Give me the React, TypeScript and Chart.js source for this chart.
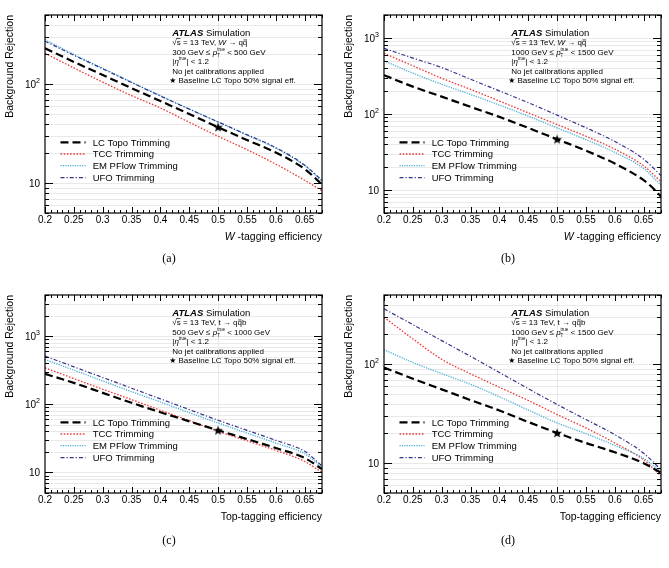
import React, { useEffect, useRef } from "react";
import { Chart, registerables } from "chart.js";
Chart.register(...registerables);

// ---------------- data ----------------
const EFF = [0.2, 0.25, 0.3, 0.35, 0.4, 0.45, 0.5, 0.55, 0.6, 0.65, 0.68];
const EFF_B_LC = [0.2, 0.25, 0.3, 0.35, 0.4, 0.45, 0.5, 0.55, 0.6, 0.65, 0.665, 0.68];
const X_TICK_LABELS = [0.2, 0.25, 0.3, 0.35, 0.4, 0.45, 0.5, 0.55, 0.6, 0.65];
const LEGEND = ["LC Topo Trimming", "TCC Trimming", "EM PFlow Trimming", "UFO Trimming"];
const BASELINE_EFF = 0.5;
const BASELINE_REJ = [36.8, 46.5, 41.5, 20.2];
const Y_MAX = [500, 2000, 4000, 500];
const Y_MIN = 5;
const X_MIN = 0.2;
const X_MAX = 0.68;
const DECAY = ["W", "W", "t", "t"];
const PT_LOW = ["300", "1000", "500", "1000"];
const PT_HIGH = ["500", "1500", "1000", "1500"];
const CAPTIONS = ["(a)", "(b)", "(c)", "(d)"];

// (a) W tagging, 300-500 GeV
const A_LC = [231, 168, 124, 91.2, 67.6, 49.9, 36.8, 27.3, 20.4, 13.9, 9.7];
const A_TCC = [205, 146, 105, 76.7, 57.5, 41.2, 29.8, 21.8, 15.6, 10.7, 8.4];
const A_EM = [282, 200, 145, 105, 76.7, 56.2, 41.4, 30.6, 22.6, 15.0, 10.5];
const A_UFO = [272, 196, 143, 104, 76, 56, 41.6, 30.9, 22.9, 15.2, 10.7];
// (b) W tagging, 1000-1500 GeV
const B_LC = [324, 229, 169, 124, 91.6, 65.6, 46.5, 33, 22.3, 13.5, 10.8, 8.2];
const B_TCC = [627, 430, 295, 211, 148, 103.5, 72.6, 51, 34.5, 20.8, 12.9];
const B_EM = [501, 344, 246, 181, 131, 93.6, 65.6, 46, 31.3, 19.2, 11.6];
const B_UFO = [730, 543, 408, 286, 201, 141, 96.6, 66, 43.5, 25.5, 15.5];
// (c) top tagging, 500-1000 GeV
const C_LC = [279, 206, 147, 105, 76.3, 56.2, 41.5, 30.9, 22.8, 16.3, 11.2];
const C_TCC = [342, 238, 166, 117, 81.7, 57.5, 40.1, 29.2, 21.1, 14.5, 10.0];
const C_EM = [454, 316, 220, 153, 108, 75.3, 53.1, 37.8, 27, 18.8, 12.0];
const C_UFO = [508, 354, 247, 172, 120, 83.5, 58.2, 41.5, 29.6, 20.4, 12.5];
// (d) top tagging, 1000-1500 GeV
const D_LC = [92.5, 71.4, 55.7, 43.4, 34.1, 26.1, 20.2, 16.0, 12.9, 10.0, 8.0];
const D_TCC = [298, 180, 112, 80, 58.5, 43, 31.0, 22.7, 16.0, 10.8, 7.4];
const D_EM = [140, 104, 80.4, 62.6, 46.9, 34.4, 25.5, 19.9, 15.1, 11.2, 8.2];
const D_UFO = [362, 251, 173, 120, 82.3, 56.6, 39.2, 27.6, 19.4, 12.6, 8.6];

const SERIES = [
  [A_LC, A_TCC, A_EM, A_UFO],
  [B_LC, B_TCC, B_EM, B_UFO],
  [C_LC, C_TCC, C_EM, C_UFO],
  [D_LC, D_TCC, D_EM, D_UFO],
];
const LC_EFFS = [EFF, EFF_B_LC, EFF, EFF];

// ---------------- styles ----------------
const FONT = '"Liberation Sans", Arial, Helvetica, sans-serif';
const SERIF = '"Liberation Serif", "Times New Roman", serif';
const STYLES = [
  { color: "#000000", width: 2.2, dash: [8, 4], order: 1 },
  { color: "#ee3b3b", width: 1.3, dash: [1.6, 1.6], order: 4 },
  { color: "#45aed6", width: 1.3, dash: [1.2, 1.2], order: 3 },
  { color: "#33338c", width: 1.2, dash: [4, 2, 1.2, 2], order: 2 },
];

const GEOM = [
  { left: 0, top: 0, w: 335, h: 280, L: 45, R: 322, capY: 259 },
  { left: 335, top: 0, w: 334, h: 280, L: 49, R: 326, capY: 259 },
  { left: 0, top: 280, w: 335, h: 288, L: 45, R: 322, capY: 260.7 },
  { left: 335, top: 280, w: 334, h: 288, L: 49, R: 326, capY: 260.7 },
];
const TOP = 15;
const BOTTOM = 213;

type Seg = { t: string; it?: boolean; b?: boolean; s?: number; dy?: number; bar?: "x" | "sqrt"; stack?: boolean };

function drawRich(ctx: CanvasRenderingContext2D, x: number, y: number, segs: Seg[], base: number, measureOnly = false) {
  let cx = x;
  let prevStart = x;
  for (const g of segs) {
    const size = g.s ?? base;
    ctx.font = `${g.it ? "italic " : ""}${g.b ? "bold " : ""}${size}px ${FONT}`;
    const w = ctx.measureText(g.t).width;
    const sx = g.stack ? prevStart : cx;
    if (!measureOnly) {
      ctx.fillText(g.t, sx, y + (g.dy ?? 0));
      if (g.bar) {
        const by = y + (g.dy ?? 0) - (g.bar === "sqrt" ? 0.8 : 0.62) * size;
        ctx.save();
        ctx.beginPath();
        ctx.lineWidth = 0.7;
        ctx.setLineDash([]);
        ctx.moveTo(sx + (g.bar === "sqrt" ? -0.5 : 0.6), by);
        ctx.lineTo(sx + w - 0.3, by);
        ctx.stroke();
        ctx.restore();
      }
    }
    if (g.stack) {
      cx = Math.max(cx, sx + w);
    } else {
      prevStart = sx;
      cx = sx + w;
    }
  }
  return cx - x;
}

function starPath(ctx: CanvasRenderingContext2D, cx: number, cy: number, R: number, r: number) {
  ctx.beginPath();
  for (let i = 0; i < 10; i++) {
    const ang = -Math.PI / 2 + (i * Math.PI) / 5;
    const rad = i % 2 === 0 ? R : r;
    const px = cx + rad * Math.cos(ang);
    const py = cy + rad * Math.sin(ang);
    if (i === 0) ctx.moveTo(px, py);
    else ctx.lineTo(px, py);
  }
  ctx.closePath();
  ctx.fill();
}

function makeStar(): HTMLCanvasElement {
  const c = document.createElement("canvas");
  c.width = 12;
  c.height = 12;
  const g = c.getContext("2d")!;
  g.fillStyle = "#000";
  starPath(g, 6, 6.4, 5.2, 2.1);
  return c;
}

function Panel({ idx }: { idx: number }) {
  const ref = useRef<HTMLCanvasElement>(null);
  const geo = GEOM[idx];
  useEffect(() => {
    const canvas = ref.current!;
    const series = SERIES[idx];
    const datasets: any[] = series.map((ys, si) => {
      const xs = si === 0 ? LC_EFFS[idx] : EFF;
      const st = STYLES[si];
      return {
        label: LEGEND[si],
        data: xs.map((x, i) => ({ x, y: ys[i] })),
        borderColor: st.color,
        backgroundColor: st.color,
        borderWidth: st.width,
        borderDash: st.dash,
        pointRadius: 0,
        fill: false,
        tension: 0,
        cubicInterpolationMode: "monotone",
        order: st.order,
      };
    });
    datasets.push({
      label: "Baseline",
      data: [{ x: BASELINE_EFF, y: BASELINE_REJ[idx] }],
      showLine: false,
      pointStyle: makeStar(),
      pointRadius: 5,
      borderWidth: 0,
      order: 0,
    });

    const decorations = {
      id: "atlasDeco",
      beforeDatasetsDraw(chart: any) {
        const ctx: CanvasRenderingContext2D = chart.ctx;
        const { left, right, top, bottom } = chart.chartArea;
        const ys = chart.scales.y;
        const xs = chart.scales.x;
        ctx.save();
        ctx.strokeStyle = "#e3e3e3";
        ctx.lineWidth = 0.8;
        for (let k = 0; k <= 4; k++) {
          for (let m = 1; m <= 9; m++) {
            const v = m * Math.pow(10, k);
            if (v <= Y_MIN || v >= Y_MAX[idx]) continue;
            const py = Math.round(ys.getPixelForValue(v)) + 0.5;
            ctx.beginPath();
            ctx.moveTo(left, py);
            ctx.lineTo(right, py);
            ctx.stroke();
          }
        }
        const px = Math.round(xs.getPixelForValue(BASELINE_EFF)) + 0.5;
        ctx.beginPath();
        ctx.moveTo(px, top);
        ctx.lineTo(px, bottom);
        ctx.stroke();
        ctx.restore();
      },
      afterDatasetsDraw(chart: any) {
        const ctx: CanvasRenderingContext2D = chart.ctx;
        const { left, right, top, bottom } = chart.chartArea;
        const ys = chart.scales.y;
        const xs = chart.scales.x;
        ctx.save();
        ctx.setLineDash([]);
        ctx.strokeStyle = "#000";
        ctx.fillStyle = "#000";
        // frame
        ctx.lineWidth = 1.2;
        ctx.strokeRect(left, top, right - left, bottom - top);
        // x ticks
        ctx.lineWidth = 1;
        for (let i = 20; i <= 68; i++) {
          const v = i / 100;
          const px = Math.round(xs.getPixelForValue(v)) + 0.5;
          const len = i % 5 === 0 ? 6 : 3;
          ctx.beginPath();
          ctx.moveTo(px, bottom);
          ctx.lineTo(px, bottom - len);
          ctx.moveTo(px, top);
          ctx.lineTo(px, top + len);
          ctx.stroke();
        }
        // y ticks
        for (let k = 0; k <= 4; k++) {
          for (let m = 1; m <= 9; m++) {
            const v = m * Math.pow(10, k);
            if (v < Y_MIN || v > Y_MAX[idx]) continue;
            const py = Math.round(ys.getPixelForValue(v)) + 0.5;
            const len = m === 1 ? 8 : 4;
            ctx.beginPath();
            ctx.moveTo(left, py);
            ctx.lineTo(left + len, py);
            ctx.moveTo(right, py);
            ctx.lineTo(right - len, py);
            ctx.stroke();
          }
        }
        // x tick labels
        ctx.font = `10px ${FONT}`;
        ctx.textAlign = "center";
        ctx.textBaseline = "middle";
        for (const v of X_TICK_LABELS) {
          ctx.fillText(String(v), xs.getPixelForValue(v), bottom + 7.5);
        }
        // y tick labels
        ctx.textAlign = "left";
        ctx.textBaseline = "alphabetic";
        for (let k = 1; k <= 3; k++) {
          const v = Math.pow(10, k);
          if (v < Y_MIN || v > Y_MAX[idx]) continue;
          const py = ys.getPixelForValue(v);
          const segs: Seg[] = k === 1 ? [{ t: "10" }] : [{ t: "10" }, { t: String(k), s: 7, dy: -4.5 }];
          const w = drawRich(ctx, 0, 0, segs, 10, true);
          drawRich(ctx, left - 5 - w, py + 3.6, segs, 10);
        }
        // x title
        const xt: Seg[] = DECAY[idx] === "W"
          ? [{ t: "W", it: true }, { t: " -tagging efficiency" }]
          : [{ t: "Top-tagging efficiency" }];
        const xtw = drawRich(ctx, 0, 0, xt, 10.5, true);
        drawRich(ctx, right - xtw, bottom + 26.8, xt, 10.5);
        // y title
        ctx.save();
        ctx.translate(left - 34.5, top);
        ctx.rotate(-Math.PI / 2);
        ctx.font = `10.5px ${FONT}`;
        ctx.textAlign = "right";
        ctx.textBaseline = "middle";
        ctx.fillText("Background Rejection", 0, 0);
        ctx.restore();
        ctx.textAlign = "left";
        ctx.textBaseline = "alphabetic";
        // legend
        const legY = [127.3, 139, 150.7, 162.7];
        for (let si = 0; si < 4; si++) {
          const st = STYLES[si];
          const y = top + legY[si];
          ctx.save();
          ctx.strokeStyle = st.color;
          ctx.lineWidth = st.width;
          ctx.setLineDash(st.dash);
          ctx.beginPath();
          ctx.moveTo(left + 15.5, y);
          ctx.lineTo(left + 40.5, y);
          ctx.stroke();
          ctx.restore();
          ctx.font = `9.5px ${FONT}`;
          ctx.fillText(LEGEND[si], left + 47.7, y + 3.4);
        }
        // ATLAS label block
        const ax = left + 127.3;
        const rows = [17.3, 27, 36.7, 46, 55.7, 65.3].map((r) => top + r);
        drawRich(ctx, ax, rows[0] + 3.4, [{ t: "ATLAS", b: true, it: true }, { t: " Simulation" }], 9.5);
        const dec: Seg[] = DECAY[idx] === "W"
          ? [{ t: "W", it: true }, { t: " \u2192 q" }, { t: "q", bar: "x" }]
          : [{ t: "t \u2192 q" }, { t: "q", bar: "x" }, { t: "b" }];
        drawRich(ctx, ax, rows[1] + 2.9, [{ t: "\u221A" }, { t: "s", bar: "sqrt" }, { t: " = 13 TeV, " }, ...dec], 8);
        drawRich(ctx, ax, rows[2] + 2.9, [
          { t: PT_LOW[idx] + " GeV \u2264 " },
          { t: "p", it: true },
          { t: "true", s: 4.5, dy: -4 },
          { t: "T", s: 4.5, dy: 2.2, stack: true },
          { t: " < " + PT_HIGH[idx] + " GeV" },
        ], 8);
        drawRich(ctx, ax, rows[3] + 2.9, [
          { t: "|" },
          { t: "\u03B7", it: true },
          { t: "true", s: 4.5, dy: -4 },
          { t: "| < 1.2" },
        ], 8);
        drawRich(ctx, ax, rows[4] + 2.9, [{ t: "No jet calibrations applied" }], 8);
        starPath(ctx, ax + 0.5, rows[5] + 0.2, 3, 1.25);
        drawRich(ctx, ax + 6.2, rows[5] + 2.9, [{ t: "Baseline LC Topo 50% signal eff." }], 8);
        // caption
        ctx.font = `12px ${SERIF}`;
        ctx.textAlign = "center";
        ctx.textBaseline = "middle";
        ctx.fillText(CAPTIONS[idx], (left + right) / 2 - 14.5, GEOM[idx].capY);
        ctx.restore();
      },
    };

    const chart = new Chart(canvas, {
      type: "line",
      data: { datasets },
      options: {
        responsive: false,
        animation: false,
        devicePixelRatio: 1,
        layout: { padding: { left: geo.L, right: geo.w - geo.R, top: TOP, bottom: geo.h - BOTTOM } },
        plugins: { legend: { display: false }, tooltip: { enabled: false } },
        scales: {
          x: { type: "linear", min: X_MIN, max: X_MAX, display: false },
          y: { type: "logarithmic", min: Y_MIN, max: Y_MAX[idx], display: false },
        },
      },
      plugins: [decorations],
    } as any);
    return () => chart.destroy();
  }, [idx]);
  return (
    <canvas
      ref={ref}
      width={geo.w}
      height={geo.h}
      style={{ position: "absolute", left: geo.left, top: geo.top, width: geo.w, height: geo.h }}
    />
  );
}

export default function App() {
  return (
    <div style={{ position: "fixed", left: 0, top: 0, width: 669, height: 568, background: "#fff" }}>
      {[0, 1, 2, 3].map((i) => (
        <Panel key={i} idx={i} />
      ))}
    </div>
  );
}
